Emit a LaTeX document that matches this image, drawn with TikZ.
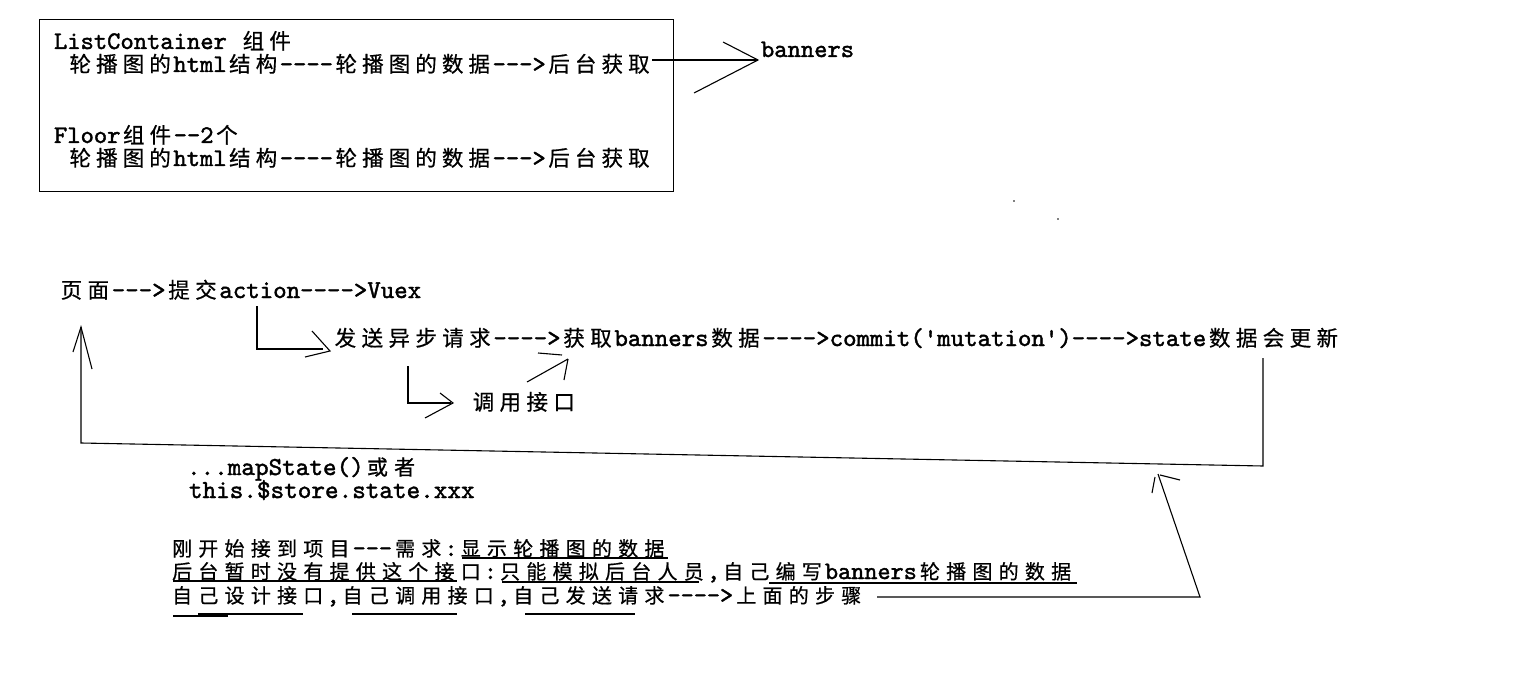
\documentclass[tikz,border=0pt]{standalone}
\usepackage{fontspec}
\defaultfontfeatures{}
\newfontfamily\latf[FakeBold=1.6]{lmmono10-regular.otf}
\newfontfamily\zhf[FakeBold=0.6]{Noto Sans CJK SC}
\newlength\zhw
\newcommand\zhsz{21.5}
\ExplSyntaxOn
\NewDocumentCommand\zh{m}{\group_begin:\fontsize{\zhsz}{\zhsz}\zhf\tl_map_inline:nn{#1}{\hbox_to_wd:nn{\zhw}{\hss##1\hss}}\group_end:}
\ExplSyntaxOff
\newcommand\setu[2]{%
  \pgfmathsetmacro\latsz{#1/0.525}%
  \setlength\zhw{#1pt}\setlength\zhw{2\zhw}%
  \def\zhsz{#2}%
  \fontsize{\latsz}{\latsz}\latf}
\tikzset{
  txt/.style={anchor=base west, inner sep=0pt, outer sep=0pt, font=\setu{13.3}{21.5}},
  txtb/.style={txt, font=\setu{13.45}{21.5}},
  txtc/.style={txt, font=\setu{13.6}{21}},
  txtd/.style={txt, font=\setu{13.12}{20}},
  ln/.style={line width=1.1pt, black},
  uline/.style={line width=1.1pt, black},
}
\begin{document}
\begin{tikzpicture}[x=1pt,y=-1pt]
\useasboundingbox (0,0) rectangle (1526,687);
\fill[white] (0,0) rectangle (1526,687);

% top box
\node[draw, line width=1.2pt, anchor=north west, inner sep=0pt, minimum width=634pt, minimum height=172pt] (box) at (39,19) {};
\node[txt] (t1) at (54,49) {ListContainer \zh{组件}};
\node[txt] (t2) at (67,72) {\zh{轮播图的}html\zh{结构}----\zh{轮播图的数据}--->\zh{后台获取}};
\node[txt] (t3) at (54,143) {Floor\zh{组件}--2\zh{个}};
\node[txt] (t4) at (67,166) {\zh{轮播图的}html\zh{结构}----\zh{轮播图的数据}--->\zh{后台获取}};
\node[txt] (ban) at (761,57) {banners};

\coordinate (bt) at (758,60);
\draw[ln] (t2.east |- bt) -- (bt);
\draw[ln] (723,42) -- (bt) -- (694,93);

% flow
\node[txtb] (t5) at (58,298) {\zh{页面}--->\zh{提交}action---->Vuex};
\node[txtb] (t6) at (332,346) {\zh{发送异步请求}---->\zh{获取}banners\zh{数据}---->commit('mutation')---->state\zh{数据会更新}};
\node[txtb] (t7) at (470,410) {\zh{调用接口}};

% hook action -> 发送
\coordinate (h1a) at (257,306);
\coordinate (h1b) at (257,349);
\coordinate (h1c) at (323,349);
\coordinate (h1t) at (330,351);
\draw[ln] (h1a) -- (h1b) -- (h1c);
\draw[ln] (312,331) -- (h1t) -- (305,357);

% hook 发送 -> 调用接口
\coordinate (h2a) at (408,366);
\coordinate (h2b) at (408,403);
\coordinate (h2c) at (451,403);
\coordinate (h2t) at (453,403);
\draw[ln] (h2a) -- (h2b) -- (h2c);
\draw[ln] (440,393) -- (h2t) -- (425,418);

% 调用接口 -> 获取
\coordinate (h3a) at (527,382);
\coordinate (h3t) at (568,359);
\draw[ln] (h3a) -- (h3t);
\draw[ln] (538,353) -- (562,355);
\draw[ln] (h3t) -- (564,380);

% feedback loop state -> 页面
\coordinate (fa) at (1263,358);
\coordinate (fb) at (1263,466);
\coordinate (fc) at (81,443);
\coordinate (ft) at (81,327);
\draw[ln] (fa) -- (fb) -- (fc) -- (ft);
\draw[ln] (73,352) -- (ft) -- (92,369);

% mapState
\node[txtc] (t8) at (187,475) {...mapState()\zh{或者}};
\node[txtc] (t9) at (189,498) {this.\$store.state.xxx};

% notes
\node[txtd] (ta) at (169,556) {\zh{刚开始接到项目}---\zh{需求}:\zh{显示轮播图的数据}};
\node[txtd] (tb) at (169,579) {\zh{后台暂时没有提供这个接口}:\zh{只能模拟后台人员},\zh{自己编写}banners\zh{轮播图的数据}};
\node[txtd] (tc) at (169,603) {\zh{自己设计接口},\zh{自己调用接口},\zh{自己发送请求}---->\zh{上面的步骤}};

% underlines
\draw[uline] (462,558) -- (668,558);
\draw[uline] (173,581) -- (457,581);
\draw[uline] (502,582) -- (699,582);
\draw[uline] (769,583) -- (1077,583);
\draw[uline] (173,616) -- (228,616);
\draw[uline] (198,614) -- (303,614);
\draw[uline] (352,614) -- (457,614);
\draw[uline] (525,614) -- (635,614);

% arrow from notes up to loop
\coordinate (na) at (877,597);
\coordinate (nb) at (1200,597);
\coordinate (nt) at (1158,474);
\draw[ln] (na) -- (nb) -- (nt);
\draw[ln] (1152,493) -- (1155,477);
\draw[ln] (1160,475) -- (1180,480);

% stray dots
\fill (1014,201) circle (0.8);
\fill (1058,219) circle (0.8);
\end{tikzpicture}
\end{document}
